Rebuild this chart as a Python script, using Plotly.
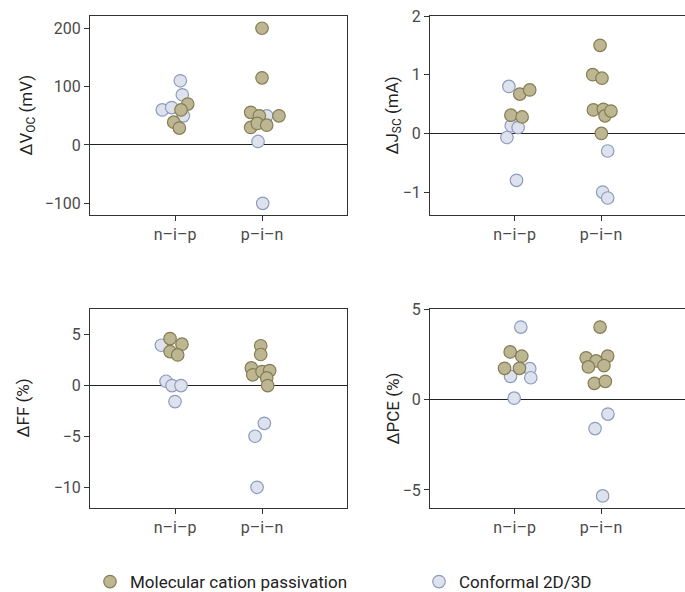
import plotly.graph_objects as go

categories = ["n–i–p", "p–i–n"]

# ΔVoc (mV)
voc_conf_nip = [60, 64, 110, 86, 50]
voc_conf_nip_off = [-0.146, -0.038, 0.061, 0.084, 0.096]
voc_mol_nip = [70, 60, 39, 29]
voc_mol_nip_off = [0.146, 0.069, -0.015, 0.050]
voc_mol_pin = [200, 115, 56, 50, 30, 37, 34, 50]
voc_mol_pin_off = [0, 0, -0.130, -0.031, -0.130, -0.054, 0.054, 0.195]
voc_conf_pin = [50, 6, -100]
voc_conf_pin_off = [0.054, -0.046, 0.008]

# ΔJsc (mA)
jsc_conf_nip = [0.8, 0.13, 0.1, -0.07, -0.8]
jsc_conf_nip_off = [-0.065, -0.038, 0.042, -0.088, 0.023]
jsc_mol_nip = [0.67, 0.74, 0.31, 0.28]
jsc_mol_nip_off = [0.061, 0.176, -0.042, 0.088]
jsc_mol_pin = [1.5, 1.0, 0.94, 0.4, 0.41, 0.3, 0.38, 0.0]
jsc_mol_pin_off = [-0.011, -0.096, 0.011, -0.088, 0.027, 0.046, 0.115, 0.004]
jsc_conf_pin = [-0.3, -1.0, -1.1]
jsc_conf_pin_off = [0.077, 0.019, 0.077]

# ΔFF (%)
ff_conf_nip = [3.95, 0.42, 0.0, 0.0, -1.57]
ff_conf_nip_off = [-0.157, -0.103, -0.034, 0.069, 0.0]
ff_mol_nip = [4.6, 4.05, 3.33, 3.0]
ff_mol_nip_off = [-0.057, 0.080, -0.057, 0.031]
ff_mol_pin = [3.9, 3.04, 1.73, 1.05, 1.37, 1.47, 0.75, 0.0]
ff_mol_pin_off = [-0.015, -0.015, -0.123, -0.107, 0.0, 0.088, 0.054, 0.065]
ff_conf_pin = [-3.7, -4.97, -9.97]
ff_conf_pin_off = [0.027, -0.080, -0.057]

# ΔPCE (%)
pce_conf_nip = [4.0, 1.7, 1.2, 1.28, 0.07]
pce_conf_nip_off = [0.073, 0.176, 0.188, -0.046, -0.004]
pce_mol_nip = [2.63, 2.39, 1.72, 1.72]
pce_mol_nip_off = [-0.050, 0.084, -0.115, 0.057]
pce_mol_pin = [4.0, 2.3, 2.13, 2.4, 1.8, 1.87, 0.89, 1.0]
pce_mol_pin_off = [-0.011, -0.172, -0.057, 0.077, -0.146, 0.034, -0.077, 0.050]
pce_conf_pin = [-0.81, -1.61, -5.33]
pce_conf_pin_off = [0.080, -0.069, 0.019]

series_names = ["Molecular cation passivation", "Conformal 2D/3D"]

OLIVE_FILL = "#bdb693"
OLIVE_LINE = "#857d52"
BLUE_FILL = "#dde2ec"
BLUE_LINE = "#8d9bbf"
FONT = "Roboto"
W, H = 685, 592

panels = [
    dict(conf=(voc_conf_nip, voc_conf_nip_off, voc_conf_pin, voc_conf_pin_off),
         mol=(voc_mol_nip, voc_mol_nip_off, voc_mol_pin, voc_mol_pin_off),
         yrange=[-120, 221], ticks=[-100, 0, 100, 200],
         title="ΔV<sub>OC</sub> (mV)", px=(90, 346.5), py=(16, 215), tx=27),
    dict(conf=(jsc_conf_nip, jsc_conf_nip_off, jsc_conf_pin, jsc_conf_pin_off),
         mol=(jsc_mol_nip, jsc_mol_nip_off, jsc_mol_pin, jsc_mol_pin_off),
         yrange=[-1.39, 2.0], ticks=[-1, 0, 1, 2],
         title="ΔJ<sub>SC</sub> (mA)", px=(430, 685), py=(16, 215), tx=393),
    dict(conf=(ff_conf_nip, ff_conf_nip_off, ff_conf_pin, ff_conf_pin_off),
         mol=(ff_mol_nip, ff_mol_nip_off, ff_mol_pin, ff_mol_pin_off),
         yrange=[-12.0, 7.5], ticks=[-10, -5, 0, 5],
         title="ΔFF (%)", px=(90, 346.5), py=(309, 508), tx=22),
    dict(conf=(pce_conf_nip, pce_conf_nip_off, pce_conf_pin, pce_conf_pin_off),
         mol=(pce_mol_nip, pce_mol_nip_off, pce_mol_pin, pce_mol_pin_off),
         yrange=[-6.0, 5.0], ticks=[-5, 0, 5],
         title="ΔPCE (%)", px=(430, 685), py=(309, 508), tx=392),
]

fig = go.Figure()
annotations = []

for i, p in enumerate(panels):
    idx = "" if i == 0 else str(i + 1)
    xa, ya = "x" + idx, "y" + idx
    for key, fill, line, name, rank in [("conf", BLUE_FILL, BLUE_LINE, series_names[1], 2),
                                         ("mol", OLIVE_FILL, OLIVE_LINE, series_names[0], 1)]:
        nip, nip_off, pin, pin_off = p[key]
        xs = [0 + o for o in nip_off] + [1 + o for o in pin_off]
        ys = list(nip) + list(pin)
        fig.add_trace(go.Scatter(
            x=xs, y=ys, mode="markers", xaxis=xa, yaxis=ya,
            name=name, legendrank=rank, showlegend=(i == 0),
            marker=dict(size=12.5, color=fill, line=dict(color=line, width=1.2)),
            hoverinfo="skip"))
    x0, x1 = p["px"]
    y0, y1 = p["py"]
    axis_common = dict(showline=True, linecolor="#333", linewidth=1, mirror=True,
                       ticks="outside", ticklen=5, tickcolor="#333", tickwidth=1,
                       showgrid=False, automargin=False,
                       tickfont=dict(family=FONT, size=16, color="#4a4a4a"))
    fig.layout["xaxis" + idx] = dict(
        domain=[x0 / W, x1 / W], range=[-0.977, 1.971], tickvals=[0, 1],
        ticktext=categories, zeroline=False, anchor=ya, **axis_common)
    fig.layout["yaxis" + idx] = dict(
        domain=[1 - y1 / H, 1 - y0 / H], range=p["yrange"], tickvals=p["ticks"],
        zeroline=True, zerolinecolor="#222", zerolinewidth=1, anchor=xa, **axis_common)
    annotations.append(dict(
        text=p["title"], x=p["tx"] / W, y=1 - (y0 + y1) / 2 / H, xref="paper", yref="paper",
        textangle=-90, showarrow=False, xanchor="center", yanchor="middle",
        font=dict(family=FONT, size=17, color="#222")))

fig.update_layout(
    width=W, height=H, margin=dict(l=0, r=0, t=0, b=0, autoexpand=False),
    paper_bgcolor="white", plot_bgcolor="white",
    annotations=annotations,
    legend=dict(orientation="h", x=90 / W, xanchor="left", y=(H - 582) / H, yanchor="middle",
                font=dict(family=FONT, size=17, color="#222"),
                entrywidth=284, entrywidthmode="pixels", itemwidth=30,
                bgcolor="rgba(0,0,0,0)"),
)

fig.write_html("out.html", config={"displayModeBar": False},
               post_script="document.body.style.margin='0';document.body.style.overflow='hidden';")
